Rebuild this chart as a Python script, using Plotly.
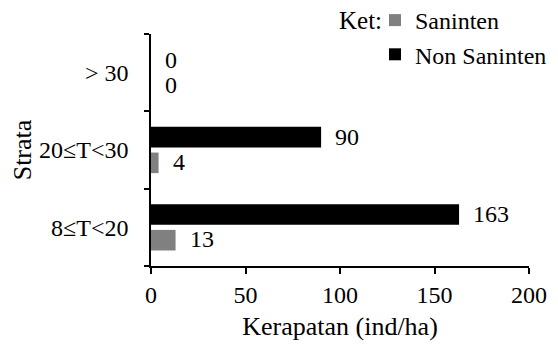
import plotly.graph_objects as go

# ---- data ----
strata = ["8≤T<20", "20≤T<30", "> 30"]
saninten = [13, 4, 0]
non_saninten = [163, 90, 0]
x_ticks = [0, 50, 100, 150, 200]

FONT = "Liberation Serif"
FS = 24
FS_BIG = 26

# the page body adds an 8px offset; margins compensate for it
ML, MR, MT, MB = 143, 37, 26, 87
W, H = 558, 345
PW, PH = W - ML - MR, H - MT - MB

fig = go.Figure()
fig.add_trace(go.Bar(y=strata, x=saninten, orientation="h", name="Saninten",
                     marker=dict(color="#808080", line=dict(width=0))))
fig.add_trace(go.Bar(y=strata, x=non_saninten, orientation="h", name="Non Saninten",
                     marker=dict(color="#000000", line=dict(width=0))))

annotations = []
for cat, v in zip(strata, non_saninten):
    annotations.append(dict(x=v, y=cat, text=str(v), xanchor="left", yanchor="middle",
                            xshift=12, yshift=13, showarrow=False,
                            font=dict(family=FONT, size=FS, color="black")))
for cat, v in zip(strata, saninten):
    annotations.append(dict(x=v, y=cat, text=str(v), xanchor="left", yanchor="middle",
                            xshift=12, yshift=-12, showarrow=False,
                            font=dict(family=FONT, size=FS, color="black")))
# legend caption
annotations.append(dict(xref="paper", yref="paper", x=(329 - ML) / PW, y=1 + 13 / PH,
                        xanchor="left", yanchor="middle", text="Ket:", showarrow=False,
                        font=dict(family=FONT, size=25, color="black")))

fig.update_layout(
    width=W, height=H,
    margin=dict(l=ML, r=MR, t=MT, b=MB, autoexpand=False),
    paper_bgcolor="white", plot_bgcolor="white",
    font=dict(family=FONT, size=FS, color="black"),
    barmode="group", bargap=0.335, bargroupgap=0.2,
    annotations=annotations,
    legend=dict(
        xref="paper", yref="paper",
        x=(377 - ML) / PW, y=1 + (MT + 10) / PH, xanchor="left", yanchor="top",
        bgcolor="rgba(0,0,0,0)", font=dict(family=FONT, size=FS),
        tracegroupgap=0, indentation=-10,
    ),
    xaxis=dict(
        range=[0, 200], tickvals=x_ticks, ticktext=[str(t) for t in x_ticks],
        showgrid=False, zeroline=False,
        showline=True, linecolor="black", linewidth=1.5,
        ticks="outside", ticklen=6, tickwidth=1.5, tickcolor="black",
        title=dict(text="Kerapatan (ind/ha)", font=dict(family=FONT, size=FS_BIG), standoff=10),
        fixedrange=True,
    ),
    yaxis=dict(
        type="category", categoryorder="array", categoryarray=strata,
        showgrid=False, zeroline=False,
        showline=True, linecolor="black", linewidth=1.5,
        ticks="outside", ticklen=5, tickwidth=1.5, tickcolor="black",
        tickson="boundaries", ticklabelstandoff=16,
        title=dict(text="Strata", font=dict(family=FONT, size=FS_BIG), standoff=8),
        fixedrange=True,
    ),
)

fig.write_html("out.html")
